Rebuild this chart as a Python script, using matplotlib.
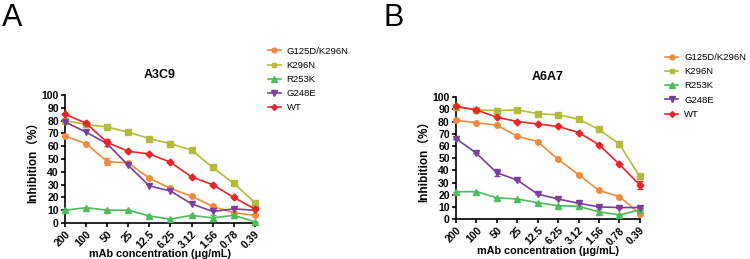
import matplotlib.pyplot as plt
import numpy as np
from matplotlib.lines import Line2D

conc_labels = ["200", "100", "50", "25", "12.5", "6.25", "3.12", "1.56", "0.78", "0.39"]
series_names = ["G125D/K296N", "K296N", "R253K", "G248E", "WT"]

# panel A (A3C9)
a_g125d = [68, 62, 48, 47, 35, 27, 21, 13, 8, 6]
a_k296n = [80, 77, 75, 71, 66, 62, 57, 43.5, 31, 16]
a_r253k = [10, 12, 10, 10, 5.5, 3, 6, 4, 6, 1]
a_g248e = [79, 71, 62, 45, 29, 25, 15, 9, 11, 10]
a_wt = [85, 78, 63, 56, 54, 47.5, 36, 30, 20, 11]
a_g125d_err = [0, 0, 3, 0, 0, 0, 0, 0, 0, 0]
a_wt_err = [0, 0, 3, 0, 0, 0, 0, 0, 0, 0]
a_r253k_err = [0, 0, 0, 0, 0, 0, 0, 2, 2, 0]

# panel B (A6A7)
b_g125d = [81, 79, 77, 68, 63.5, 49, 36.5, 23.5, 18.5, 4.5]
b_k296n = [92, 89.5, 89, 89.5, 86.5, 85.5, 82, 73.5, 61.5, 35]
b_r253k = [22.5, 22.5, 17.5, 16.5, 13.5, 11, 10.5, 6, 3.5, 7.5]
b_g248e = [66, 54, 38, 32, 20.5, 16.5, 13, 10, 9.5, 9.5]
b_wt = [92.5, 89.5, 83.5, 80, 78, 76, 71, 61, 45, 28]
b_g248e_err = [0, 0, 3, 0, 0, 0, 0, 0, 0, 0]
b_wt_err = [0, 0, 0, 0, 0, 0, 0, 0, 0, 3]
b_k296n_err = [0, 0, 0, 0, 0, 0, 0, 0, 1.5, 0]
b_r253k_err = [0, 0, 0, 0, 0, 0, 0, 2, 0, 0]

colors = ["#F08A3E", "#B3BB3B", "#4DBB5E", "#7A3E9D", "#E6262B"]
markers = ["o", "s", "^", "v", "D"]
msizes = [4, 4, 4.5, 4.5, 3.5]

plt.rcParams["font.family"] = ["Liberation Sans", "Noto Sans CJK SC"]

fig = plt.figure(figsize=(7.5, 2.59), dpi=100)
ax_a = fig.add_axes([0.0867, 0.139, 0.253, 0.494])
ax_b = fig.add_axes([0.608, 0.154, 0.245, 0.471])


def draw_panel(ax, data, errs, title):
    x = np.arange(len(conc_labels))
    for i, name in enumerate(series_names):
        ax.errorbar(x, data[i], yerr=errs[i], color=colors[i], marker=markers[i],
                    markersize=msizes[i], linewidth=1.2, capsize=2, elinewidth=1.2,
                    clip_on=False, zorder=3)
    ax.set_xlim(0, len(conc_labels) - 1)
    ax.set_ylim(0, 100)
    ax.set_yticks(range(0, 101, 10))
    ax.set_xticks(x)
    ax.set_xticklabels(conc_labels, rotation=45, ha="right", rotation_mode="anchor",
                       fontweight="bold", fontsize=7.5)
    for lab in ax.get_yticklabels():
        lab.set_fontweight("bold")
        lab.set_fontsize(7.5)
    ax.spines["top"].set_visible(False)
    ax.spines["right"].set_visible(False)
    ax.spines["left"].set_linewidth(1.2)
    ax.spines["bottom"].set_linewidth(1.2)
    ax.tick_params(length=3, width=1.2, pad=1.5)
    ax.set_xlabel("mAb concentration (μg/mL)", fontweight="bold", fontsize=7.8, labelpad=-1)
    ax.set_ylabel("Inhibition（%）", fontweight="bold", fontsize=8.5, labelpad=2)
    ax.set_title(title, fontweight="bold", fontsize=9, pad=12)


draw_panel(ax_a, [a_g125d, a_k296n, a_r253k, a_g248e, a_wt],
           [a_g125d_err, None, a_r253k_err, None, a_wt_err], "A3C9")
draw_panel(ax_b, [b_g125d, b_k296n, b_r253k, b_g248e, b_wt],
           [None, b_k296n_err, b_r253k_err, b_g248e_err, b_wt_err], "A6A7")

handles = [Line2D([], [], color=colors[i], marker=markers[i], markersize=msizes[i] - 0.5,
                  linewidth=1.2) for i in range(len(series_names))]
for anchor in [(0.357, 0.82), (0.887, 0.795)]:
    fig.legend(handles, series_names, loc="upper left", bbox_to_anchor=anchor, frameon=False,
               fontsize=6.8, handlelength=1.4, handletextpad=0.6, labelspacing=0.55,
               borderaxespad=0, borderpad=0)

fig.text(0.003, 0.99, "A", fontsize=22, va="top", ha="left")
fig.text(0.512, 0.99, "B", fontsize=22, va="top", ha="left")

fig.savefig("out.png", dpi=100)
